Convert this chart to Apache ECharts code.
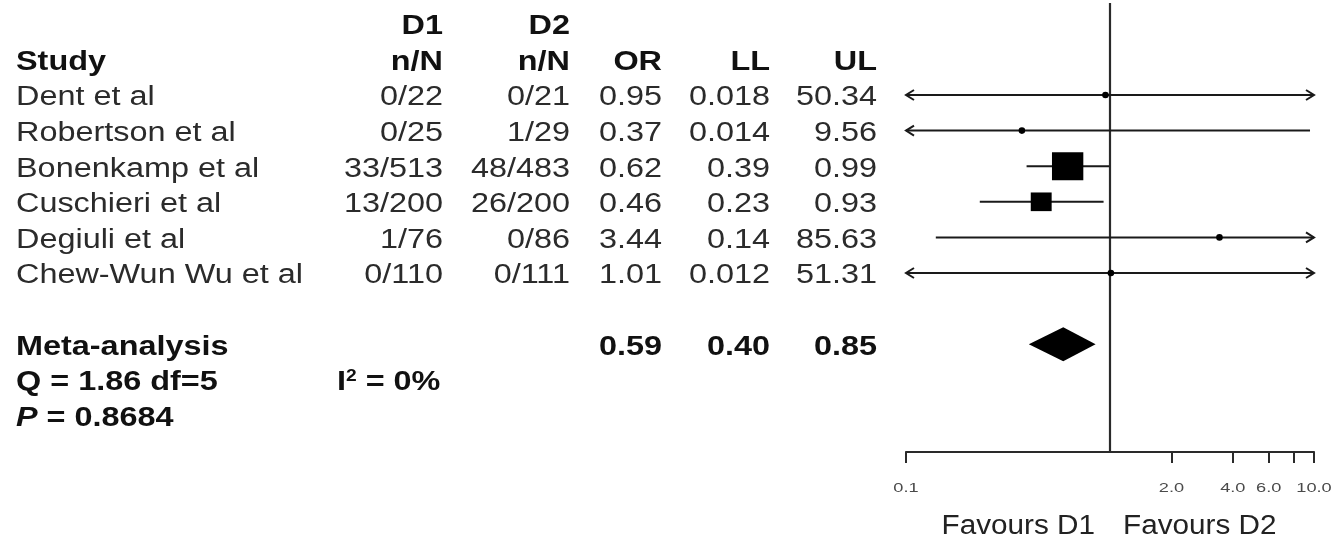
<!DOCTYPE html>
<html>
<head>
<meta charset="utf-8">
<script src="https://cdn.jsdelivr.net/npm/echarts@6/dist/echarts.min.js"></script>
<style>
  html, body { margin: 0; padding: 0; background: #fff; }
  #main { width: 1341px; height: 543px; }
</style>
</head>
<body>
<div id="main"></div>
<script>
// study data
var studies = ["Dent et al", "Robertson et al", "Bonenkamp et al", "Cuschieri et al", "Degiuli et al", "Chew-Wun Wu et al"];
var d1 = ["0/22", "0/25", "33/513", "13/200", "1/76", "0/110"];
var d2 = ["0/21", "1/29", "48/483", "26/200", "0/86", "0/111"];
var oddsRatio = [0.95, 0.37, 0.62, 0.46, 3.44, 1.01];
var lower = [0.018, 0.014, 0.39, 0.23, 0.14, 0.012];
var upper = [50.34, 9.56, 0.99, 0.93, 85.63, 51.31];

// pooled result
var metaOR = 0.59;
var metaLL = 0.40;
var metaUL = 0.85;
var metaQ = "Q = 1.86 df=5";
var metaI2 = "{b|I}{s|2}{b| = 0%}";
var metaP = "0.8684";

// x axis
var tickValues = [0.1, 2, 4, 6, 8, 10];
var tickLabels = ["0.1", "2.0", "4.0", "6.0", "", "10.0"];

var X_MIN = 0.1, X_MAX = 10;
var Y_MIN = -2.67, Y_MAX = 10.03;
var FONT = '"Liberation Sans", Arial, sans-serif';
var SX = 1.2; // text in the original is a bit wide
var colX = [16, 443, 570, 662, 770, 877, 337];
var colAlign = ["left", "right", "right", "right", "right", "right", "left"];

// table rows (row index on the y axis)
var tableRows = [];
tableRows.push({ row: -2, bold: true, cells: ["", "D1", "D2", "", "", "", ""] });
tableRows.push({ row: -1, bold: true, cells: ["Study", "n/N", "n/N", "OR", "LL", "UL", ""] });
studies.forEach(function (s, i) {
  tableRows.push({
    row: i, bold: false,
    cells: [s, d1[i], d2[i], String(oddsRatio[i]), String(lower[i]), String(upper[i]), ""]
  });
});
tableRows.push({ row: 7, bold: true, cells: ["Meta-analysis", "", "", metaOR.toFixed(2), metaLL.toFixed(2), metaUL.toFixed(2), ""] });
tableRows.push({ row: 8, bold: true, cells: [metaQ, "", "", "", "", "", metaI2], rich: true });
tableRows.push({ row: 9, bold: true, cells: ["{i|P}{b| = " + metaP + "}", "", "", "", "", "", ""], rich: true });

var richText = {
  i: { fontStyle: "italic", fontWeight: "bold", fontSize: 27, fontFamily: FONT, fill: "#111" },
  b: { fontWeight: "bold", fontSize: 27, fontFamily: FONT, fill: "#111" },
  s: { fontWeight: "bold", fontSize: 16, fontFamily: FONT, fill: "#111", verticalAlign: "top", padding: [0, 0, 12, 0] }
};

function renderTable(params, api) {
  var r = tableRows[params.dataIndex];
  var y = api.coord([1, r.row])[1] + 3;
  var kids = [];
  r.cells.forEach(function (t, c) {
    if (!t) return;
    var st = {
      text: t, x: 0, y: 0,
      fill: r.bold ? "#111" : "#2b2b2b",
      fontSize: 27, fontFamily: FONT,
      fontWeight: r.bold ? "bold" : "normal",
      align: colAlign[c], verticalAlign: "middle"
    };
    if (r.rich) st.rich = richText;
    kids.push({ type: "text", x: colX[c], y: y, scaleX: SX, style: st });
  });
  return { type: "group", children: kids };
}

function renderStudy(params, api) {
  var row = api.value(1);
  var ll = api.value(2), ul = api.value(3);
  var pLo = api.coord([Math.max(ll, X_MIN), row]);
  var pHi = api.coord([Math.min(ul, X_MAX), row]);
  var pc = api.coord([api.value(0), row]);
  var se = (Math.log(ul) - Math.log(ll)) / 3.92;
  var s = Math.max(6, 6.65 / se);
  var stroke = { stroke: "#1a1a1a", lineWidth: 2, fill: null };
  var kids = [{
    type: "line",
    shape: { x1: pLo[0], y1: pLo[1], x2: pHi[0], y2: pHi[1] },
    style: stroke
  }];
  if (ll < X_MIN) {
    kids.push({ type: "polyline", shape: { points: [[pLo[0] + 8, pLo[1] - 5], [pLo[0], pLo[1]], [pLo[0] + 8, pLo[1] + 5]] }, style: stroke });
  }
  if (ul > X_MAX) {
    kids.push({ type: "polyline", shape: { points: [[pHi[0] - 8, pHi[1] - 5], [pHi[0], pHi[1]], [pHi[0] - 8, pHi[1] + 5]] }, style: stroke });
  }
  if (s <= 7) {
    kids.push({ type: "circle", shape: { cx: pc[0], cy: pc[1], r: 3.3 }, style: { fill: "#000" } });
  } else {
    var w = s * 1.12;
    kids.push({ type: "rect", shape: { x: pc[0] - w / 2, y: pc[1] - s / 2, width: w, height: s }, style: { fill: "#000" } });
  }
  return { type: "group", children: kids };
}

function renderDiamond(params, api) {
  var row = api.value(1);
  var c = api.coord([api.value(0), row]);
  var lo = api.coord([api.value(2), row]);
  var hi = api.coord([api.value(3), row]);
  return {
    type: "polygon",
    shape: { points: [[lo[0], c[1]], [c[0], c[1] - 17], [hi[0], c[1]], [c[0], c[1] + 17]] },
    style: { fill: "#000" }
  };
}

function renderRefLine(params, api) {
  var cs = params.coordSys;
  var x = api.coord([api.value(0), 0])[0];
  var bottom = cs.y + cs.height;
  return {
    type: "group",
    children: [
      { type: "line", shape: { x1: x, y1: cs.y + 3, x2: x, y2: bottom }, style: { stroke: "#2a2a2a", lineWidth: 2.2 } },
      { type: "text", x: x - 15, y: bottom + 75, scaleX: 1.1,
        style: { text: "Favours D1", fill: "#222", fontSize: 27, fontFamily: FONT, align: "right", verticalAlign: "middle" } },
      { type: "text", x: x + 13, y: bottom + 75, scaleX: 1.1,
        style: { text: "Favours D2", fill: "#222", fontSize: 27, fontFamily: FONT, align: "left", verticalAlign: "middle" } }
    ]
  };
}

function renderTickLabel(params, api) {
  var cs = params.coordSys;
  var x = api.coord([api.value(0), 0])[0];
  var t = tickLabels[params.dataIndex];
  if (!t) return null;
  return {
    type: "text", x: x, y: cs.y + cs.height + 36, scaleX: 1.4,
    style: { text: t, fill: "#4a4a4a", fontSize: 13, fontFamily: FONT, align: "center", verticalAlign: "middle" }
  };
}

var dom = document.getElementById("main");
var myChart = echarts.init(dom, null, { renderer: "canvas" });

var studyData = oddsRatio.map(function (v, i) { return [v, i, lower[i], upper[i]]; });

var option = {
  animation: false,
  backgroundColor: "#fff",
  grid: { left: 906, top: 0, width: 408, height: 452, outerBoundsMode: "none", containLabel: false },
  xAxis: {
    type: "log",
    logBase: 10,
    min: X_MIN,
    max: X_MAX,
    axisLine: { show: true, onZero: false, lineStyle: { color: "#2a2a2a", width: 2.2 } },
    axisTick: { show: true, customValues: tickValues, length: 11, lineStyle: { color: "#2a2a2a", width: 2 } },
    axisLabel: { show: false },
    splitLine: { show: false },
    minorTick: { show: false }
  },
  yAxis: {
    type: "value",
    inverse: true,
    min: Y_MIN,
    max: Y_MAX,
    show: false,
    splitLine: { show: false }
  },
  series: [
    { type: "custom", renderItem: renderRefLine, data: [[1, 0]], encode: { x: 0, y: 1 }, silent: true, z: 1 },
    { type: "custom", renderItem: renderStudy, data: studyData, encode: { x: 0, y: 1 }, silent: true, z: 2 },
    { type: "custom", renderItem: renderDiamond, data: [[metaOR, 7, metaLL, metaUL]], encode: { x: 0, y: 1 }, silent: true, z: 2 },
    { type: "custom", renderItem: renderTickLabel, data: tickValues.map(function (v) { return [v, 0]; }), encode: { x: 0, y: 1 }, silent: true },
    { type: "custom", renderItem: renderTable, data: tableRows.map(function (r) { return [1, r.row]; }), encode: { x: 0, y: 1 }, silent: true }
  ]
};

myChart.setOption(option);
window.addEventListener("resize", myChart.resize);
</script>
</body>
</html>
